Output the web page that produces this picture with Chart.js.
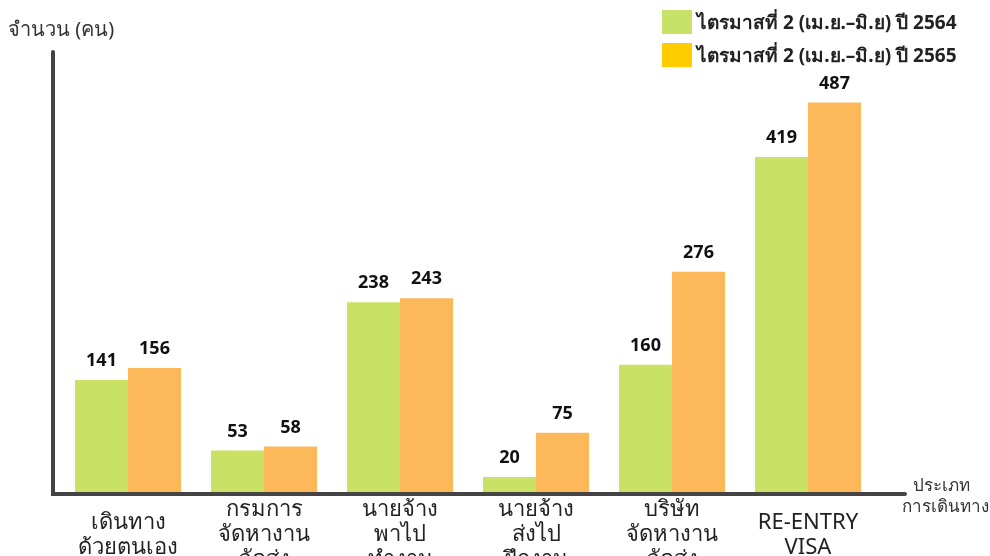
<!DOCTYPE html>
<html lang="th">
<head>
<meta charset="utf-8">
<script src="https://cdn.jsdelivr.net/npm/chart.js@4"></script>
<style>
  html, body { margin: 0; padding: 0; background: #fff; }
  #wrap { position: relative; width: 990px; height: 556px; overflow: hidden; }
  #legende { position: absolute; left: 662px; top: 5px; font: bold 19px "Noto Sans", sans-serif; color: #222; }
  .item { display: flex; align-items: center; height: 33px; }
  .carre { width: 30px; height: 24px; margin-right: 5px; }
</style>
</head>
<body>
<div id="wrap">
  <canvas id="graph" width="990" height="556"></canvas>
  <div id="legende"></div>
</div>
<script>
// ── Données ───────────────────────────────────────────────────────────
const CATEGORIES = [
    ['เดินทาง', 'ด้วยตนเอง'],
    ['กรมการ', 'จัดหางาน', 'จัดส่ง'],
    ['นายจ้าง', 'พาไป', 'ทำงาน'],
    ['นายจ้าง', 'ส่งไป', 'ฝึกงาน'],
    ['บริษัท', 'จัดหางาน', 'จัดส่ง'],
    ['RE-ENTRY', 'VISA'],
];
const SERIES      = ['ไตรมาสที่ 2 (เม.ย.–มิ.ย) ปี 2564', 'ไตรมาสที่ 2 (เม.ย.–มิ.ย) ปี 2565'];
const VALEURS_64  = [141, 53, 238, 20, 160, 419];
const VALEURS_65  = [156, 58, 243, 75, 276, 487];

const COULEURS_BARRES  = ['#C9E265', '#FDB85A'];
const COULEURS_LEGENDE = ['#C7E169', '#FFCC00'];
const POLICE = '"Noto Sans", sans-serif';

// ── Légende HTML ──────────────────────────────────────────────────────
document.getElementById('legende').innerHTML = SERIES.map((s, i) =>
    `<div class="item"><span class="carre" style="background:${COULEURS_LEGENDE[i]}"></span>${s}</div>`
).join('');

// ── Plugin : axes, titres et valeurs ──────────────────────────────────
const decor = {
    id: 'decor',
    afterDatasetsDraw(chart) {
        const { ctx, chartArea: a } = chart;
        ctx.save();
        // valeurs au-dessus des barres
        ctx.font = 'bold 18px ' + POLICE;
        ctx.fillStyle = '#111';
        ctx.textAlign = 'center';
        ctx.textBaseline = 'bottom';
        chart.data.datasets.forEach((ds, i) => {
            chart.getDatasetMeta(i).data.forEach((bar, j) => {
                ctx.fillText(ds.data[j], bar.x, bar.y - 10);
            });
        });
        // axes
        ctx.strokeStyle = '#444';
        ctx.lineWidth = 4;
        ctx.lineCap = 'round';
        ctx.beginPath();
        ctx.moveTo(a.left - 7, 52);
        ctx.lineTo(a.left - 7, a.bottom + 1);
        ctx.lineTo(a.right + 29, a.bottom + 1);
        ctx.stroke();
        // titres des axes
        ctx.fillStyle = '#333';
        ctx.textBaseline = 'middle';
        ctx.font = '20px ' + POLICE;
        ctx.textAlign = 'left';
        ctx.fillText('จำนวน (คน)', 8, 30);
        ctx.font = '17px ' + POLICE;
        ctx.textAlign = 'center';
        ctx.fillText('ประเภท', 941, 486);
        ctx.fillText('การเดินทาง', 945, 507);
        ctx.restore();
    },
};

new Chart(document.getElementById('graph'), {
    type: 'bar',
    data: {
        labels: CATEGORIES,
        datasets: [
            { label: SERIES[0], data: VALEURS_64, backgroundColor: COULEURS_BARRES[0] },
            { label: SERIES[1], data: VALEURS_65, backgroundColor: COULEURS_BARRES[1] },
        ],
    },
    options: {
        responsive: false,
        animation: false,
        layout: { padding: { left: 60, right: 114, top: 52, bottom: 0 } },
        barPercentage: 1,
        categoryPercentage: 0.78,
        plugins: { legend: { display: false }, tooltip: { enabled: false } },
        scales: {
            x: {
                grid: { display: false, drawTicks: false },
                border: { display: false },
                ticks: {
                    font: { family: POLICE, size: 22, lineHeight: 1.14 },
                    color: '#222',
                    crossAlign: 'center',
                    padding: 17,
                    maxRotation: 0,
                    autoSkip: false,
                },
                afterFit: s => { s.height = 63; },
            },
            y: { display: false, min: 0, max: 550 },
        },
    },
    plugins: [decor],
});
</script>
</body>
</html>
